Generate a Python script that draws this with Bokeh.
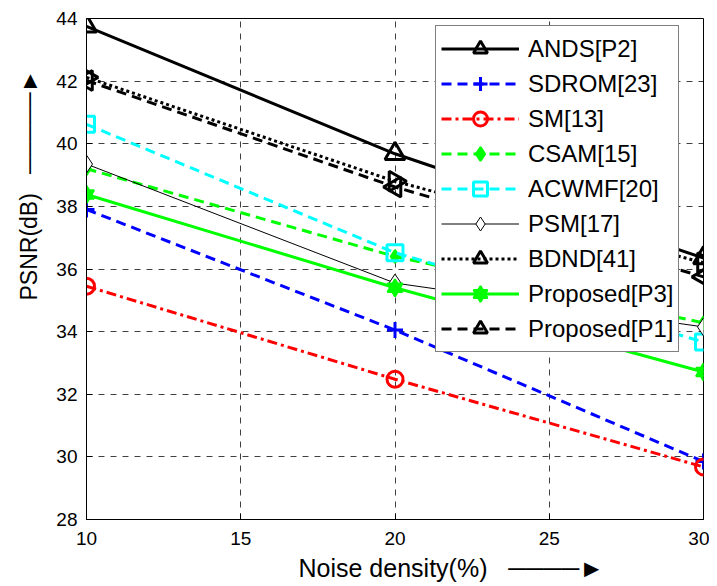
import numpy as np
from bokeh.plotting import figure
from bokeh.models import Legend, LegendItem, Range1d, FixedTicker, Title
from bokeh.embed import file_html
from bokeh.resources import INLINE

# ---- data -------------------------------------------------------------
noise = [10, 20, 30]
x_ticks = [10, 15, 20, 25, 30]
y_ticks = [28, 30, 32, 34, 36, 38, 40, 42, 44]

ands = [43.75, 39.68, 36.35]
sdrom = [37.9, 34.05, 29.85]
sm = [35.45, 32.48, 29.68]
csam = [39.2, 36.4, 34.28]
acwmf = [40.62, 36.52, 33.67]
psm = [39.35, 35.55, 34.15]
bdnd = [42.12, 38.8, 36.2]
p3 = [38.38, 35.4, 32.71]
p1 = [42.02, 38.62, 35.75]

names = ["ANDS[P2]", "SDROM[23]", "SM[13]", "CSAM[15]", "ACWMF[20]",
         "PSM[17]", "BDND[41]", "Proposed[P3]", "Proposed[P1]"]

NB = "\u00a0"
x_title = "Noise density(%)" + NB * 3 + "\u2500" * 4 + "\u25ba"
y_title = "PSNR(dB)" + NB * 3 + "\u2500" * 5 + "\u25ba"

FONT = "Liberation Sans"

p = figure(width=709, height=586, output_backend="svg", toolbar_location=None,
           x_range=Range1d(10, 30), y_range=Range1d(28, 44),
           min_border_left=86, min_border_right=6, min_border_top=18,
           min_border_bottom=67)
p.background_fill_color = "white"
p.border_fill_color = "white"
p.outline_line_color = "black"
p.outline_line_width = 1

for ax in (p.xaxis[0], p.yaxis[0]):
    ax.major_tick_in = 6
    ax.major_tick_out = 0
    ax.minor_tick_line_color = None
    ax.axis_line_color = "black"
    ax.major_label_text_font = FONT
    ax.major_label_text_font_size = "19px"
    ax.major_label_text_color = "black"
p.xaxis.ticker = FixedTicker(ticks=x_ticks)
p.yaxis.ticker = FixedTicker(ticks=y_ticks)
p.xaxis.major_label_standoff = 12
p.yaxis.major_label_standoff = 9

p.grid.grid_line_color = "black"
p.grid.grid_line_alpha = 0.75
p.grid.grid_line_dash = "6 6"
p.grid.grid_line_width = 1
p.xgrid.ticker = FixedTicker(ticks=x_ticks)
p.ygrid.ticker = FixedTicker(ticks=y_ticks)

items = []

def series(y, name, color, lw, dash, marker, size, fill=None, angle=0.0, mlw=None):
    r_line = p.line(noise, y, line_color=color, line_width=lw, line_dash=dash)
    rs = [r_line]
    markers = marker if isinstance(marker, list) else [marker]
    for m in markers:
        r = p.scatter(noise, y, marker=m, size=size, line_color=color,
                      line_width=mlw if mlw is not None else lw,
                      fill_color=fill, angle=angle)
        rs.append(r)
    items.append(LegendItem(label=name, renderers=rs))

series(ands, names[0], "black", 3, "solid", "triangle", 20, mlw=3)
series(sdrom, names[1], "#0000ff", 3, "10 6", "cross", 16, mlw=3)
series(sm, names[2], "#ff0000", 3, "10 4 3 4", "circle", 16, mlw=3)
series(csam, names[3], "#00ff00", 3, "10 6", "diamond", 13, fill="#00ff00", mlw=2)
series(acwmf, names[4], "#00ffff", 3, "10 6", "square", 16, mlw=3)
series(psm, names[5], "black", 1, "solid", "diamond", 18, fill="white", mlw=1)
series(bdnd, names[6], "black", 3, "3 3", "triangle", 20, angle=-np.pi / 2, mlw=3)
series(p3, names[7], "#00ff00", 3, "solid", ["triangle", "inverted_triangle"], 15,
       fill="#00ff00", mlw=2)
series(p1, names[8], "black", 3, "10 6", "triangle", 20, angle=np.pi / 2, mlw=3)

legend = Legend(items=items, location=(349, 167))
legend.label_text_font = FONT
legend.label_text_font_size = "24px"
legend.label_text_color = "black"
legend.label_height = 35
legend.glyph_height = 35
legend.glyph_width = 78
legend.label_standoff = 9
legend.spacing = 0
legend.padding = 5
legend.margin = 0
legend.border_line_color = "black"
legend.border_line_width = 1
legend.background_fill_color = "white"
legend.background_fill_alpha = 1.0
p.add_layout(legend)

# axis titles with their arrows (as text)
xt = Title(text=x_title, align="left", offset=212, standoff=9,
           text_font=FONT, text_font_size="25px", text_font_style="normal",
           text_color="black")
p.add_layout(xt, "below")

yt = Title(text=y_title, align="left", offset=219, standoff=23,
           text_font=FONT, text_font_size="23px", text_font_style="normal",
           text_color="black")
p.add_layout(yt, "left")

open("out.html", "w").write(file_html(p, INLINE))
